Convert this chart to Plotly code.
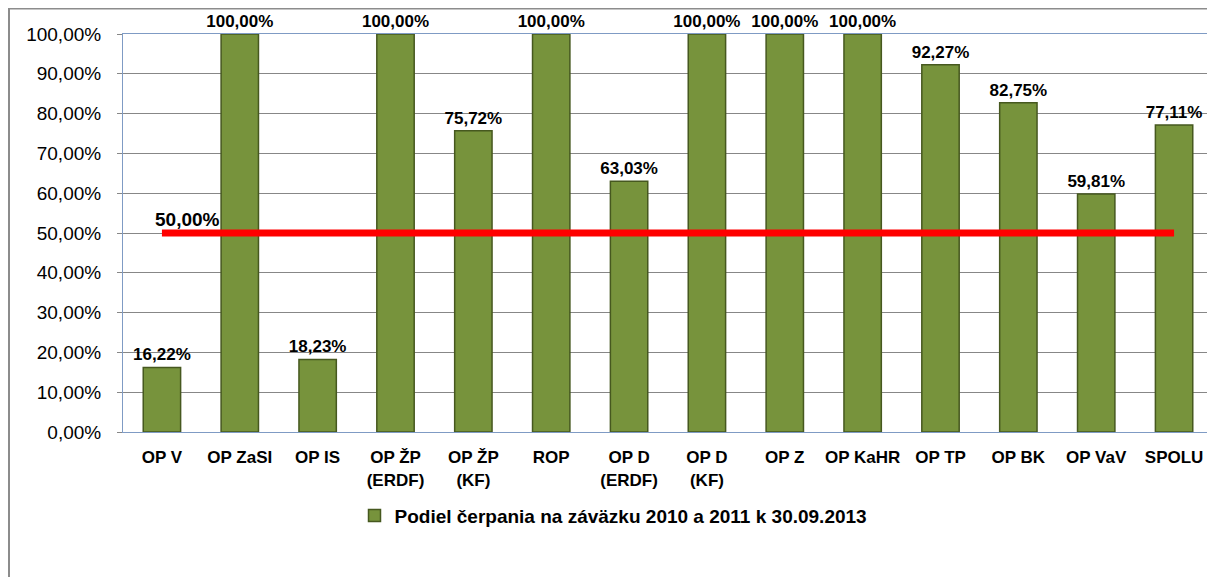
import plotly.graph_objects as go

categories = ["OP V", "OP ZaSI", "OP IS", "OP ŽP<br>(ERDF)", "OP ŽP<br>(KF)", "ROP",
              "OP D<br>(ERDF)", "OP D<br>(KF)", "OP Z", "OP KaHR", "OP TP", "OP BK",
              "OP VaV", "SPOLU"]
values = [0.1622, 1.0, 0.1823, 1.0, 0.7572, 1.0, 0.6303, 1.0, 1.0, 1.0, 0.9227,
          0.8275, 0.5981, 0.7711]
series_name = "Podiel čerpania na záväzku 2010 a 2011 k 30.09.2013"
threshold_x = ["OP V", "SPOLU"]
threshold_y = [0.5, 0.5]
threshold_label = "50,00%"
y_ticks = [0, 0.1, 0.2, 0.3, 0.4, 0.5, 0.6, 0.7, 0.8, 0.9, 1.0]

FONT = "Liberation Sans, Arial, sans-serif"

# page has an 8px body margin; figure is sized so the plot lands where the reference has it
W, H = 1207, 569
ML, MT, MR, MB = 115, 26, 2, 145
PW, PH = W - ML - MR, H - MT - MB

fig = go.Figure()
fig.add_trace(go.Bar(
    x=categories, y=values, name="<b>" + series_name + "</b>",
    marker=dict(color="#77933C", line=dict(color="#46581F", width=1.5)),
    width=0.48,
    texttemplate="<b>%{y:.2%}</b>", textposition="outside", constraintext="none",
    textfont=dict(size=17, color="black", family=FONT),
    cliponaxis=False,
))
fig.add_trace(go.Scatter(
    x=threshold_x, y=threshold_y, mode="lines",
    line=dict(color="#FF0000", width=7), showlegend=False, hoverinfo="skip",
))
fig.add_annotation(x=threshold_x[0], y=threshold_y[0], text="<b>" + threshold_label + "</b>",
                   showarrow=False, xanchor="left", yanchor="bottom", xshift=-9, yshift=1,
                   font=dict(size=19, color="black", family=FONT))

# outer chart frame
fig.add_shape(type="rect", xref="paper", yref="paper",
              x0=-(ML - 1) / PW, x1=1.05, y0=-0.5, y1=1 + (MT - 0.5) / PH,
              line=dict(color="#8C8C8C", width=2), fillcolor="rgba(0,0,0,0)", layer="below")

fig.update_layout(
    width=W, height=H,
    margin=dict(l=ML, r=MR, t=MT, b=MB),
    paper_bgcolor="white", plot_bgcolor="white",
    separators=", ",
    font=dict(family=FONT, color="black"),
    showlegend=True,
    legend=dict(orientation="h", x=0.45, xanchor="center", y=-0.21, yanchor="middle",
                font=dict(size=19, family=FONT), itemwidth=30),
    xaxis=dict(showline=True, linecolor="#7F9BC4", linewidth=1, mirror=True,
               tickfont=dict(size=17, family=FONT), ticks="", ticklabelstandoff=10,
               showgrid=False, tickprefix="<b>", ticksuffix="</b>"),
    yaxis=dict(range=[0, 1], tickvals=y_ticks, tickformat=".2%",
               showgrid=True, gridcolor="#878787", gridwidth=1,
               showline=True, linecolor="#7F9BC4", linewidth=1, mirror=True,
               ticks="outside", ticklen=5, tickcolor="#878787", ticklabelstandoff=12,
               tickfont=dict(size=19, family=FONT), zeroline=False),
)

fig.write_html("out.html")
